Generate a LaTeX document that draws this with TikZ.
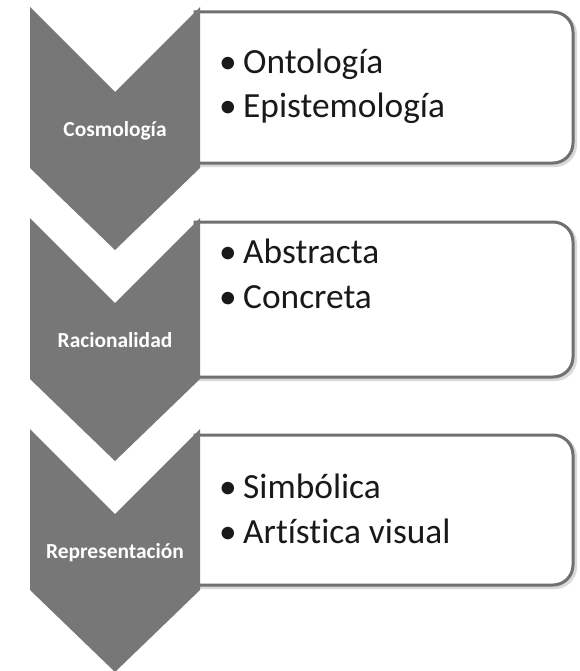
\documentclass[tikz,border=0pt]{standalone}
\usepackage{fontspec}
\setmainfont{Carlito}[Ligatures={NoCommon}]
\definecolor{chev}{RGB}{119,119,119}
\definecolor{boxline}{RGB}{112,112,112}
\definecolor{txt}{RGB}{25,25,25}
\begin{document}
\begin{tikzpicture}[x=1bp,y=-1bp,
  chevron/.style={fill=chev,draw=none},
  itembox/.style={draw=boxline,line width=3bp,fill=white},
  boxshadow/.style={draw=black!15,line width=4bp},
  steplabel/.style={text=white,font=\bfseries\fontsize{21.5}{24}\selectfont,inner sep=0pt,anchor=base},
  bulletmark/.style={text=txt,font=\fontsize{35.5}{40}\selectfont,inner sep=0pt,anchor=base},
  itemtext/.style={text=txt,font=\fontsize{35.5}{40}\selectfont,inner sep=0pt,anchor=base west}]
\useasboundingbox (0,0) rectangle (580,671);
\fill[white] (0,0) rectangle (580,671);
% boxes
\foreach \t/\b in {12/163,222/377,435/585}{
  \draw[boxshadow] (195,\t+2) -- (555,\t+2) arc[start angle=-90,end angle=0,radius=20] -- (575,\b-18) arc[start angle=0,end angle=90,radius=20] -- (195,\b+2);
  \draw[itembox] (195,\t) -- (553,\t) arc[start angle=-90,end angle=0,radius=20] -- (573,\b-20) arc[start angle=0,end angle=90,radius=20] -- (195,\b) -- cycle;
}
% chevrons
\foreach \t in {7,218,429}{
  \fill[chevron] (30,\t) -- (115,\t+85) -- (200,\t) -- (200,\t+161) -- (115,\t+243) -- (30,\t+161) -- cycle;
}
% labels
\node[steplabel] (l1) at (115,136) {Cosmología};
\node[steplabel] (l2) at (115,347) {Racionalidad};
\node[steplabel] (l3) at (115,558) {Representación};
% items
\node[bulletmark] (b1a) at (228,74) {•};
\node[itemtext] (t1a) at (243,74) {Ontología};
\node[bulletmark] (b1b) at (228,118) {•};
\node[itemtext] (t1b) at (243,118) {Epistemología};
\node[bulletmark] (b2a) at (228,263) {•};
\node[itemtext] (t2a) at (243,263) {Abstracta};
\node[bulletmark] (b2b) at (228,308) {•};
\node[itemtext] (t2b) at (243,308) {Concreta};
\node[bulletmark] (b3a) at (228,498) {•};
\node[itemtext] (t3a) at (243,498) {Simbólica};
\node[bulletmark] (b3b) at (228,543) {•};
\node[itemtext] (t3b) at (243,543) {Artística visual};
\end{tikzpicture}
\end{document}
